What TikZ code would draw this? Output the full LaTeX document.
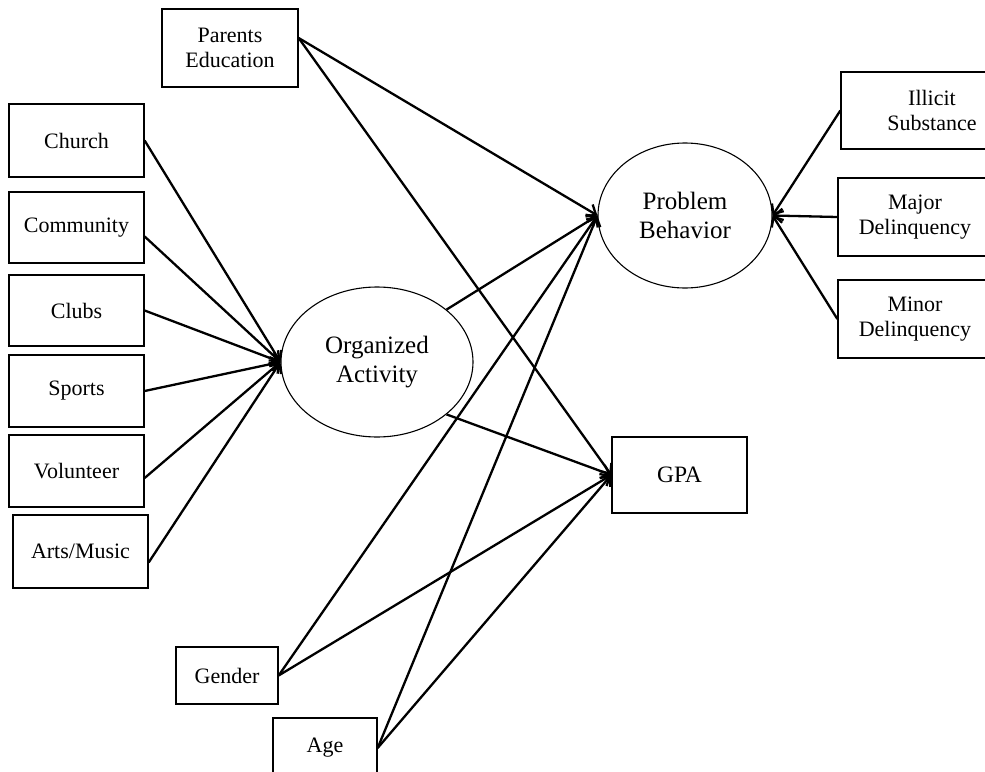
\documentclass[tikz,border=0pt]{standalone}
\usepackage{fontspec}
\setmainfont{Liberation Serif}
\usetikzlibrary{arrows.meta,shapes.geometric}
\tikzset{
  box/.style={draw, line width=1.3pt, inner sep=0pt, align=center,
    font=\fontsize{22}{25}\selectfont},
  latent/.style={draw, ellipse, line width=1.1pt, inner sep=0pt, align=center,
    font=\fontsize{25}{28.5}\selectfont},
  path/.style={line width=2.3pt, -{Straight Barb[length=8pt,width=14pt,line width=2.3pt]}}
}
\begin{document}
\begin{tikzpicture}[x=1pt,y=-1pt]
\useasboundingbox (0,0) rectangle (985,771);
% exogenous boxes
\node[box, minimum width=136pt, minimum height=78pt] (parents) at (230,48) {Parents\\Education};
\node[box, minimum width=135pt, minimum height=73pt] (church) at (76.5,140.5) {Church};
\node[box, minimum width=135pt, minimum height=71pt] (community) at (76.5,227.5) {Community};
\node[box, minimum width=135pt, minimum height=71pt] (clubs) at (76.5,310.5) {Clubs};
\node[box, minimum width=135pt, minimum height=72pt] (sports) at (76.5,391) {Sports};
\node[box, minimum width=135pt, minimum height=72pt] (volunteer) at (76.5,471) {Volunteer};
\node[box, minimum width=135pt, minimum height=73pt] (arts) at (80.5,551.5) {Arts/Music};
\node[box, minimum width=102pt, minimum height=57pt] (gender) at (227,675.5) {Gender};
\node[box, minimum width=104pt, minimum height=60pt] (age) at (325,748) {Age};
% latent
\node[latent, minimum width=192pt, minimum height=150pt] (org) at (377,362) {Organized\\Activity};
\node[latent, minimum width=174pt, minimum height=145pt] (pb) at (685,215.5) {Problem\\Behavior};
% outcome
\node[box, minimum width=135pt, minimum height=76pt, font=\fontsize{23.5}{27}\selectfont] (gpa) at (679.5,475) {GPA};
% indicators
\node[box, minimum width=182pt, minimum height=77pt] (illicit) at (932,110.5) {Illicit\\Substance};
\node[box, minimum width=154pt, minimum height=78pt] (major) at (915,217) {Major\\Delinquency};
\node[box, minimum width=154pt, minimum height=78pt] (minor) at (915,319) {Minor\\Delinquency};
% paths into organized activity
\draw[path] (church.east) -- (org.west);
\draw[path] ([yshift=-9pt]community.east) -- (org.west);
\draw[path] (clubs.east) -- (org.west);
\draw[path] (sports.east) -- (org.west);
\draw[path] ([yshift=-7pt]volunteer.east) -- (org.west);
\draw[path] ([yshift=-11pt]arts.east) -- (org.west);
% paths into problem behavior
\draw[path] ([yshift=10pt]parents.east) -- (pb.west);
\draw[path] (org.37) -- (pb.west);
\draw[path] (gender.east) -- (pb.west);
\draw[path] (age.east) -- (pb.west);
% paths into GPA
\draw[path] ([yshift=10pt]parents.east) -- (gpa.west);
\draw[path] (org.-37) -- (gpa.west);
\draw[path] (gender.east) -- (gpa.west);
\draw[path] (age.east) -- (gpa.west);
% indicators into problem behavior
\draw[path] (illicit.west) -- (pb.east);
\draw[path] (major.west) -- (pb.east);
\draw[path] (minor.west) -- (pb.east);
\end{tikzpicture}
\end{document}
